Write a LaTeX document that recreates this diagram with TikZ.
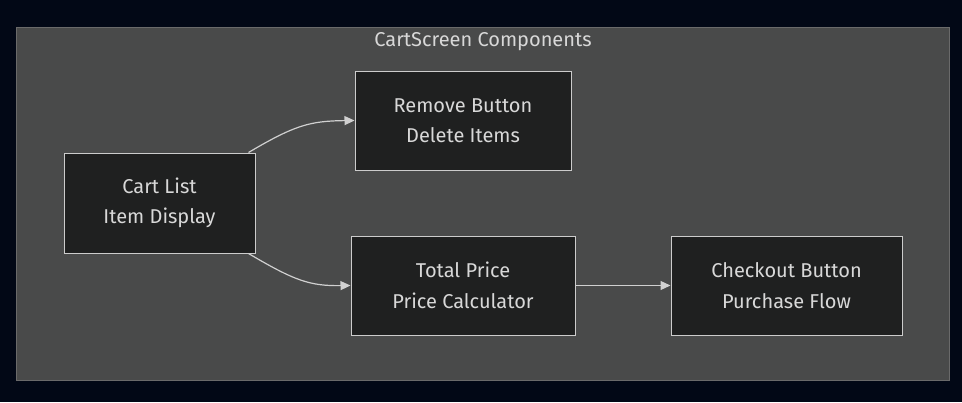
\documentclass[tikz,border=0pt]{standalone}
\usepackage{fontspec}
\setmainfont{Fira Sans}
\usetikzlibrary{arrows.meta}
\definecolor{bgc}{HTML}{020816}
\definecolor{clfill}{HTML}{494A4A}
\definecolor{clline}{HTML}{6A6A6A}
\definecolor{nfill}{HTML}{1F2020}
\definecolor{nline}{HTML}{CCCCCC}
\definecolor{txt}{HTML}{D8D8D8}
\definecolor{edge}{HTML}{D0D0D0}
\tikzset{
  box/.style={draw=nline, fill=nfill, line width=1pt, text=txt, align=center,
    font=\fontsize{20pt}{30.5pt}\selectfont, inner sep=0pt},
  conn/.style={draw=edge, line width=1.2pt, -{Triangle[length=10pt,width=9pt]}},
}
\begin{document}
\begin{tikzpicture}[x=1pt,y=-1pt]
\useasboundingbox[fill=bgc] (0,0) rectangle (962,402);
\node[draw=clline, fill=clfill, line width=1pt, minimum width=933pt, minimum height=353pt, inner sep=0pt] (cluster) at (482.5,203.5) {};
\node[text=txt, font=\fontsize{20pt}{24pt}\selectfont] (title) at (483,42) {CartScreen Components};
\node[box, minimum width=191pt, minimum height=100pt] (cart) at (159.5,203) {Cart List\\Item Display};
\node[box, minimum width=216pt, minimum height=99pt] (remove) at (463,120.5) {Remove Button\\Delete Items};
\node[box, minimum width=224pt, minimum height=99pt] (total) at (463,285.5) {Total Price\\Price Calculator};
\node[box, minimum width=231pt, minimum height=99pt] (checkout) at (786.5,285.5) {Checkout Button\\Purchase Flow};
\draw[conn] ([xshift=-7pt]cart.north east) .. controls (295,125) and (310,121) .. (remove.west);
\draw[conn] ([xshift=-7pt]cart.south east) .. controls (295,281) and (310,286) .. (total.west);
\draw[conn] (total.east) -- (checkout.west);
\end{tikzpicture}
\end{document}
